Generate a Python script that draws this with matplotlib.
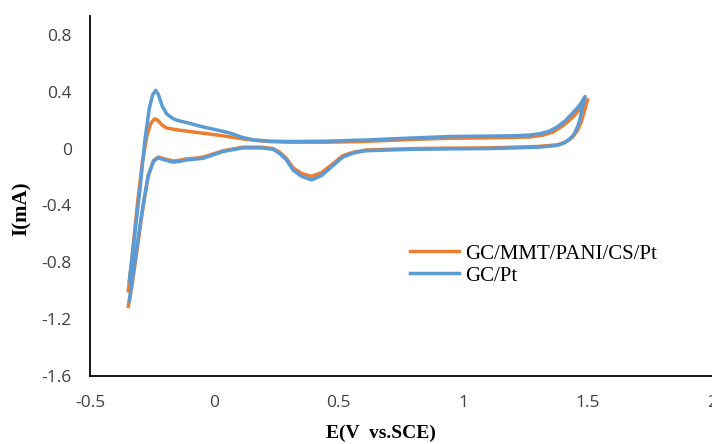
import matplotlib
matplotlib.use("Agg")
import matplotlib.pyplot as plt

# GC/MMT/PANI/CS/Pt  (potential V, current mA) - forward then return sweep
orange_x = [-0.346, -0.33, -0.31, -0.29, -0.27, -0.255, -0.24, -0.228, -0.21, -0.192, -0.15, -0.099,
            -0.03, 0.035, 0.1, 0.142, 0.22, 0.3, 0.45, 0.6, 0.8, 0.95, 1.1, 1.2, 1.27, 1.32, 1.36,
            1.40, 1.44, 1.47, 1.5,
            1.49, 1.475, 1.46, 1.44, 1.41, 1.38, 1.3, 1.2, 1.1, 0.95, 0.8, 0.7, 0.61, 0.56, 0.516,
            0.463, 0.43, 0.39, 0.35, 0.316, 0.29, 0.262, 0.236, 0.19, 0.115, 0.035, -0.045, -0.08,
            -0.112, -0.14, -0.166, -0.2, -0.226, -0.245, -0.266, -0.29, -0.31, -0.33, -0.346]
orange_y = [-1.0, -0.75, -0.40, -0.10, 0.10, 0.18, 0.21, 0.20, 0.165, 0.145, 0.132, 0.12,
            0.105, 0.09, 0.072, 0.062, 0.05, 0.045, 0.045, 0.05, 0.065, 0.073, 0.076, 0.078, 0.082,
            0.095, 0.115, 0.16, 0.22, 0.28, 0.344,
            0.28, 0.19, 0.13, 0.08, 0.045, 0.027, 0.015, 0.01, 0.005, 0.003, 0.0, -0.005, -0.01,
            -0.025, -0.05, -0.125, -0.17, -0.195, -0.175, -0.135, -0.07, -0.025, 0.0, 0.01, 0.01,
            -0.015, -0.06, -0.068, -0.072, -0.082, -0.088, -0.072, -0.06, -0.085, -0.19, -0.45,
            -0.70, -0.95, -1.11]

# GC/Pt
blue_x = [-0.342, -0.32, -0.30, -0.28, -0.262, -0.248, -0.236, -0.225, -0.21, -0.192, -0.17, -0.152,
          -0.10, -0.059, 0.0, 0.062, 0.11, 0.155, 0.22, 0.30, 0.45, 0.6, 0.8, 0.95, 1.1, 1.2, 1.266,
          1.31, 1.346, 1.38, 1.413, 1.44, 1.466, 1.49,
          1.48, 1.47, 1.46, 1.445, 1.426, 1.40, 1.373, 1.3, 1.21, 1.1, 0.945, 0.8, 0.7, 0.61, 0.56,
          0.516, 0.463, 0.43, 0.39, 0.35, 0.316, 0.29, 0.262, 0.236, 0.19, 0.115, 0.035, -0.045,
          -0.08, -0.112, -0.14, -0.166, -0.2, -0.226, -0.245, -0.266, -0.285, -0.30, -0.32, -0.338,
          -0.342]
blue_y = [-0.93, -0.60, -0.30, 0.05, 0.28, 0.38, 0.41, 0.38, 0.30, 0.245, 0.215, 0.20,
          0.178, 0.158, 0.135, 0.11, 0.08, 0.062, 0.052, 0.05, 0.052, 0.06, 0.075, 0.085, 0.088,
          0.09, 0.095, 0.105, 0.122, 0.155, 0.2, 0.25, 0.30, 0.367,
          0.30, 0.21, 0.156, 0.10, 0.063, 0.035, 0.021, 0.01, 0.005, 0.0, -0.002, -0.005, -0.01,
          -0.015, -0.03, -0.06, -0.14, -0.19, -0.22, -0.195, -0.15, -0.08, -0.035, -0.005, 0.005,
          0.005, -0.02, -0.068, -0.075, -0.08, -0.09, -0.095, -0.08, -0.065, -0.09, -0.19, -0.38,
          -0.55, -0.80, -1.02, -1.07]

x_ticks = [-0.5, 0, 0.5, 1, 1.5, 2]
x_labels = ["-0.5", "0", "0.5", "1", "1.5", "2"]
y_ticks = [-1.6, -1.2, -0.8, -0.4, 0, 0.4, 0.8]
y_labels = ["-1.6", "-1.2", "-0.8", "-0.4", "0", "0.4", "0.8"]

fig = plt.figure(figsize=(7.12, 4.44), dpi=100, facecolor="white")
ax = fig.add_axes([90 / 712, 68 / 444, 622 / 712, 360 / 444])

ax.plot(orange_x, orange_y, color="#ED7D31", lw=2.5, solid_joinstyle="round", label="GC/MMT/PANI/CS/Pt")
ax.plot(blue_x, blue_y, color="#5B9BD5", lw=2.5, solid_joinstyle="round", label="GC/Pt")

ax.set_xlim(-0.5, 2)
ax.set_ylim(-1.6, 0.933)
ax.set_xticks(x_ticks)
ax.set_xticklabels(x_labels)
ax.set_yticks(y_ticks)
ax.set_yticklabels(y_labels)
ax.tick_params(length=0, labelsize=12.5, labelcolor="#404040")
ax.tick_params(axis="y", pad=13)
ax.tick_params(axis="x", pad=14)
for lab in ax.get_xticklabels() + ax.get_yticklabels():
    lab.set_family("Open Sans")

ax.spines["top"].set_visible(False)
ax.spines["right"].set_visible(False)
ax.spines["left"].set_linewidth(1.3)
ax.spines["bottom"].set_linewidth(1.3)

fig.text(22 / 712, 1 - 209 / 444, "I(mA)", rotation=90, ha="center", va="center",
         family="Liberation Serif", fontweight="bold", fontsize=15)
fig.text(381 / 712, 1 - 433 / 444, "E(V  vs.SCE)", ha="center", va="center",
         family="Liberation Serif", fontweight="bold", fontsize=14)

fig.legend(loc="upper left", bbox_to_anchor=(410 / 712, 1 - 244 / 444), frameon=False,
           prop={"family": "Liberation Serif", "size": 15}, handlelength=2.35, handletextpad=0.3,
           labelspacing=0.12, borderpad=0, borderaxespad=0)

fig.savefig("out.png", dpi=100)
